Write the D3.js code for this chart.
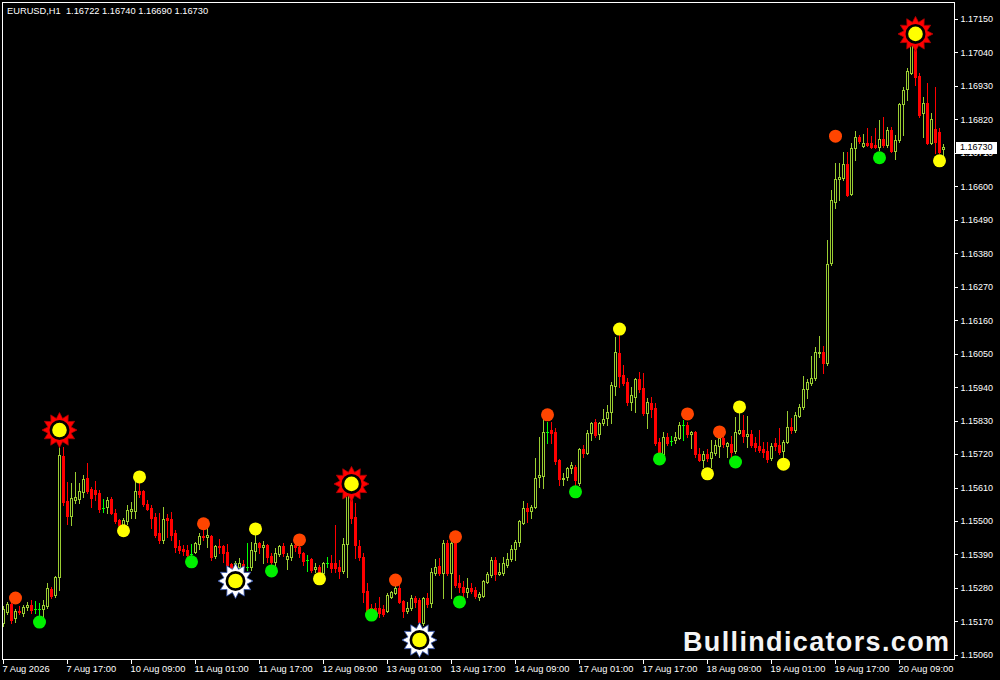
<!DOCTYPE html>
<html><head><meta charset="utf-8">
<script src="https://cdn.jsdelivr.net/npm/d3@7"></script>
<style>html,body{margin:0;padding:0;background:#000;}svg{display:block;}</style>
</head><body>
<svg id="chart" width="1000" height="680"></svg>
<script>
const symbolTitle = "EURUSD,H1  1.16722 1.16740 1.16690 1.16730";
const bidPrice = 1.16730;
const watermark = "Bullindicators.com";

const opens = [
1.15165,1.15201,1.15228,1.15181,1.15204,1.15198,1.15218,1.15224,1.15211,1.15211,
1.15211,1.15221,1.15277,1.15257,1.15316,1.15714,1.15566,1.15517,1.15569,1.15573,
1.15596,1.15641,1.15605,1.15602,1.15592,1.15543,1.15546,1.15573,1.15527,1.15504,
1.15487,1.15500,1.15533,1.15533,1.15599,1.15599,1.15556,1.15543,1.15514,1.15461,
1.15438,1.15510,1.15507,1.15461,1.15418,1.15408,1.15405,1.15392,1.15399,1.15425,
1.15451,1.15448,1.15451,1.15385,1.15418,1.15418,1.15399,1.15359,1.15343,1.15349,
1.15359,1.15349,1.15349,1.15402,1.15428,1.15415,1.15422,1.15385,1.15366,1.15392,
1.15418,1.15376,1.15382,1.15422,1.15415,1.15395,1.15372,1.15376,1.15343,1.15349,
1.15330,1.15362,1.15362,1.15362,1.15349,1.15336,1.15425,1.15592,1.15514,1.15418,
1.15382,1.15270,1.15214,1.15214,1.15214,1.15211,1.15204,1.15251,1.15264,1.15280,
1.15237,1.15204,1.15214,1.15247,1.15241,1.15165,1.15247,1.15231,1.15330,1.15353,
1.15330,1.15428,1.15330,1.15428,1.15297,1.15283,1.15267,1.15280,1.15274,1.15251,
1.15254,1.15300,1.15323,1.15372,1.15326,1.15330,1.15356,1.15376,1.15408,1.15431,
1.15494,1.15543,1.15533,1.15546,1.15645,1.15648,1.15793,1.15799,1.15793,1.15701,
1.15638,1.15645,1.15674,1.15678,1.15625,1.15737,1.15724,1.15789,1.15826,1.15786,
1.15822,1.15839,1.15858,1.15944,1.16052,1.15980,1.15957,1.15891,1.15908,1.15967,
1.15937,1.15855,1.15888,1.15872,1.15760,1.15720,1.15776,1.15763,1.15766,1.15773,
1.15816,1.15816,1.15786,1.15793,1.15720,1.15701,1.15720,1.15707,1.15724,1.15747,
1.15773,1.15747,1.15753,1.15730,1.15789,1.15799,1.15780,1.15786,1.15757,1.15747,
1.15737,1.15730,1.15707,1.15757,1.15750,1.15730,1.15760,1.15809,1.15799,1.15845,
1.15875,1.15934,1.15954,1.15970,1.16052,1.16056,1.16020,1.16348,1.16549,1.16624,
1.16628,1.16674,1.16575,1.16726,1.16762,1.16733,1.16743,1.16743,1.16736,1.16730,
1.16756,1.16736,1.16785,1.16716,1.16752,1.16870,1.16920,1.16972,1.17078,1.16962,
1.16841,1.16874,1.16743,1.16788,1.16778,1.16722];

const highs = [
1.15221,1.15234,1.15241,1.15211,1.15221,1.15224,1.15234,1.15241,1.15237,1.15231,
1.15241,1.15297,1.15283,1.15320,1.15773,1.15743,1.15628,1.15625,1.15661,1.15625,
1.15651,1.15691,1.15612,1.15632,1.15602,1.15573,1.15579,1.15579,1.15540,1.15507,
1.15510,1.15553,1.15563,1.15628,1.15625,1.15602,1.15569,1.15553,1.15527,1.15527,
1.15546,1.15523,1.15530,1.15471,1.15438,1.15422,1.15422,1.15425,1.15431,1.15461,
1.15481,1.15477,1.15454,1.15422,1.15441,1.15422,1.15425,1.15362,1.15369,1.15379,
1.15372,1.15428,1.15431,1.15461,1.15431,1.15435,1.15425,1.15395,1.15412,1.15422,
1.15428,1.15395,1.15428,1.15428,1.15428,1.15399,1.15389,1.15379,1.15362,1.15356,
1.15366,1.15382,1.15389,1.15487,1.15372,1.15445,1.15619,1.15619,1.15560,1.15438,
1.15395,1.15297,1.15228,1.15231,1.15251,1.15224,1.15264,1.15270,1.15287,1.15297,
1.15241,1.15234,1.15257,1.15254,1.15247,1.15251,1.15264,1.15346,1.15376,1.15379,
1.15438,1.15438,1.15438,1.15435,1.15323,1.15303,1.15313,1.15297,1.15283,1.15267,
1.15306,1.15333,1.15382,1.15382,1.15362,1.15382,1.15395,1.15422,1.15438,1.15504,
1.15566,1.15560,1.15553,1.15707,1.15776,1.15832,1.15826,1.15826,1.15806,1.15704,
1.15658,1.15678,1.15694,1.15684,1.15740,1.15750,1.15799,1.15826,1.15835,1.15826,
1.15868,1.15881,1.15957,1.16105,1.16111,1.16013,1.15970,1.15941,1.15970,1.15990,
1.15987,1.15904,1.15908,1.15888,1.15773,1.15793,1.15789,1.15780,1.15793,1.15826,
1.15832,1.15826,1.15796,1.15796,1.15740,1.15730,1.15737,1.15766,1.15766,1.15780,
1.15780,1.15760,1.15780,1.15842,1.15855,1.15849,1.15845,1.15799,1.15776,1.15799,
1.15760,1.15760,1.15757,1.15773,1.15806,1.15766,1.15862,1.15839,1.15858,1.15885,
1.15977,1.15967,1.16043,1.16072,1.16108,1.16075,1.16424,1.16588,1.16677,1.16677,
1.16713,1.16713,1.16743,1.16782,1.16769,1.16772,1.16792,1.16765,1.16792,1.16818,
1.16828,1.16795,1.16795,1.16769,1.16874,1.16927,1.16989,1.17097,1.17104,1.16972,
1.16893,1.16940,1.16841,1.16927,1.16792,1.16740];

const lows = [
1.15155,1.15195,1.15165,1.15168,1.15195,1.15188,1.15208,1.15198,1.15198,1.15185,
1.15185,1.15214,1.15247,1.15251,1.15274,1.15553,1.15491,1.15487,1.15560,1.15560,
1.15579,1.15592,1.15546,1.15569,1.15530,1.15530,1.15527,1.15523,1.15494,1.15471,
1.15484,1.15491,1.15510,1.15510,1.15579,1.15550,1.15537,1.15477,1.15448,1.15428,
1.15428,1.15448,1.15438,1.15399,1.15395,1.15389,1.15382,1.15372,1.15395,1.15408,
1.15438,1.15415,1.15372,1.15379,1.15395,1.15366,1.15343,1.15323,1.15333,1.15339,
1.15339,1.15339,1.15339,1.15372,1.15395,1.15362,1.15366,1.15356,1.15356,1.15385,
1.15385,1.15343,1.15372,1.15402,1.15382,1.15356,1.15336,1.15333,1.15333,1.15326,
1.15316,1.15349,1.15333,1.15333,1.15313,1.15330,1.15316,1.15494,1.15379,1.15372,
1.15234,1.15185,1.15195,1.15191,1.15185,1.15188,1.15201,1.15247,1.15260,1.15231,
1.15185,1.15198,1.15208,1.15218,1.15165,1.15158,1.15218,1.15218,1.15323,1.15323,
1.15247,1.15323,1.15247,1.15283,1.15267,1.15251,1.15251,1.15264,1.15247,1.15241,
1.15251,1.15297,1.15316,1.15306,1.15323,1.15323,1.15349,1.15369,1.15372,1.15418,
1.15491,1.15497,1.15510,1.15543,1.15612,1.15609,1.15757,1.15757,1.15687,1.15619,
1.15619,1.15635,1.15658,1.15619,1.15619,1.15710,1.15720,1.15766,1.15776,1.15770,
1.15816,1.15816,1.15822,1.15914,1.15941,1.15947,1.15881,1.15865,1.15858,1.15924,
1.15849,1.15806,1.15842,1.15750,1.15710,1.15710,1.15750,1.15750,1.15757,1.15770,
1.15766,1.15776,1.15740,1.15710,1.15697,1.15678,1.15697,1.15678,1.15717,1.15710,
1.15743,1.15710,1.15707,1.15724,1.15786,1.15760,1.15743,1.15743,1.15730,1.15727,
1.15710,1.15694,1.15701,1.15734,1.15720,1.15710,1.15757,1.15789,1.15793,1.15842,
1.15868,1.15904,1.15947,1.15963,1.16039,1.15987,1.16013,1.16342,1.16529,1.16555,
1.16621,1.16568,1.16571,1.16687,1.16743,1.16730,1.16733,1.16726,1.16726,1.16720,
1.16730,1.16730,1.16713,1.16690,1.16746,1.16769,1.16884,1.16969,1.16933,1.16828,
1.16762,1.16739,1.16739,1.16709,1.16709,1.16690];

const closes = [
1.15211,1.15228,1.15175,1.15204,1.15201,1.15218,1.15224,1.15208,1.15211,1.15211,
1.15224,1.15280,1.15254,1.15316,1.15717,1.15563,1.15517,1.15576,1.15579,1.15599,
1.15638,1.15599,1.15576,1.15589,1.15540,1.15543,1.15569,1.15527,1.15500,1.15487,
1.15504,1.15537,1.15540,1.15599,1.15589,1.15556,1.15540,1.15510,1.15454,1.15438,
1.15507,1.15504,1.15454,1.15415,1.15405,1.15402,1.15389,1.15392,1.15428,1.15451,
1.15448,1.15454,1.15382,1.15418,1.15415,1.15395,1.15356,1.15343,1.15362,1.15362,
1.15349,1.15349,1.15405,1.15428,1.15415,1.15422,1.15382,1.15366,1.15395,1.15418,
1.15395,1.15385,1.15422,1.15415,1.15395,1.15369,1.15372,1.15339,1.15349,1.15333,
1.15362,1.15362,1.15346,1.15346,1.15336,1.15425,1.15596,1.15510,1.15422,1.15382,
1.15267,1.15201,1.15201,1.15201,1.15198,1.15195,1.15257,1.15267,1.15280,1.15234,
1.15204,1.15214,1.15247,1.15234,1.15168,1.15247,1.15228,1.15333,1.15349,1.15330,
1.15428,1.15330,1.15428,1.15290,1.15283,1.15267,1.15280,1.15270,1.15254,1.15260,
1.15303,1.15326,1.15372,1.15326,1.15333,1.15362,1.15376,1.15408,1.15431,1.15500,
1.15543,1.15533,1.15546,1.15641,1.15651,1.15793,1.15793,1.15789,1.15697,1.15638,
1.15641,1.15674,1.15684,1.15635,1.15737,1.15724,1.15789,1.15822,1.15783,1.15822,
1.15835,1.15858,1.15947,1.16056,1.15977,1.15954,1.15891,1.15914,1.15967,1.15934,
1.15855,1.15891,1.15868,1.15757,1.15720,1.15776,1.15757,1.15763,1.15776,1.15816,
1.15816,1.15786,1.15793,1.15720,1.15701,1.15720,1.15707,1.15727,1.15750,1.15773,
1.15753,1.15757,1.15727,1.15793,1.15799,1.15780,1.15786,1.15750,1.15743,1.15734,
1.15727,1.15704,1.15747,1.15747,1.15727,1.15760,1.15809,1.15799,1.15849,1.15875,
1.15934,1.15957,1.15970,1.16056,1.16056,1.16020,1.16345,1.16555,1.16624,1.16631,
1.16674,1.16571,1.16726,1.16762,1.16749,1.16743,1.16736,1.16730,1.16730,1.16756,
1.16736,1.16785,1.16716,1.16752,1.16870,1.16917,1.16979,1.17074,1.16959,1.16834,
1.16874,1.16743,1.16821,1.16746,1.16713,1.16730];

const timeLabelIdx = [0,16,32,48,64,80,96,112,128,144,160,176,192,208,224];
const timeLabels = ["7 Aug 2026","7 Aug 17:00","10 Aug 09:00","11 Aug 01:00","11 Aug 17:00","12 Aug 09:00","13 Aug 01:00","13 Aug 17:00","14 Aug 09:00","17 Aug 01:00","17 Aug 17:00","18 Aug 09:00","19 Aug 01:00","19 Aug 17:00","20 Aug 09:00"];
const priceTicks = [1.17150,1.17040,1.16930,1.16820,1.16710,1.16600,1.16490,1.16380,1.16270,1.16160,1.16050,1.15940,1.15830,1.15720,1.15610,1.15500,1.15390,1.15280,1.15170,1.15060];

const orangeIdx = [3,50,74,98,113,136,171,179,208];
const orangePrice = [1.15247,1.15491,1.15438,1.15306,1.15448,1.15849,1.15852,1.15793,1.16765];
const yellowIdx = [30,34,63,79,154,176,184,195,234];
const yellowPrice = [1.15468,1.15645,1.15474,1.15310,1.16131,1.15655,1.15875,1.15687,1.16684];
const greenIdx = [9,47,67,92,114,143,164,183,219];
const greenPrice = [1.15168,1.15366,1.15336,1.15191,1.15234,1.15596,1.15704,1.15694,1.16694];
const topStarIdx = [14,87,228];
const topStarPrice = [1.15799,1.15622,1.17101];
const bottomStarIdx = [58,104];
const bottomStarPrice = [1.15303,1.15109];

const svg = d3.select('#chart');
svg.append('rect').attr('width',1000).attr('height',680).attr('fill','#000');

const x = d3.scaleLinear().domain([0, 235]).range([3, 943]);
const y = d3.scaleLinear().domain([1.15060, 1.17150]).range([654.9, 19]);

const BULL = '#9ACD32', BEAR = '#FF0000', DOJI = '#00FF00';
const candles = opens.map((o,i)=>({i, o, h:highs[i], l:lows[i], c:closes[i]}));

const gC = svg.append('g').attr('shape-rendering','crispEdges');
candles.forEach(d=>{
  const cx = Math.round(x(d.i));
  const yo = Math.round(y(d.o)), yc = Math.round(y(d.c));
  const yh = Math.round(y(d.h)), yl = Math.round(y(d.l));
  const doji = Math.abs(d.o - d.c) < 0.000015;
  const col = doji ? DOJI : (d.c > d.o ? BULL : BEAR);
  gC.append('rect').attr('x',cx).attr('y',yh).attr('width',1).attr('height',Math.max(1,yl-yh+1)).attr('fill',col);
  const top = Math.min(yo,yc), bot = Math.max(yo,yc);
  if (doji || top===bot) {
    gC.append('rect').attr('x',cx-1).attr('y',top).attr('width',3).attr('height',1).attr('fill',col);
  } else if (d.c > d.o) {
    gC.append('rect').attr('x',cx-1).attr('y',top).attr('width',3).attr('height',bot-top+1).attr('fill',BULL);
    if (bot-top-1 > 0) gC.append('rect').attr('x',cx).attr('y',top+1).attr('width',1).attr('height',bot-top-1).attr('fill','#000');
  } else {
    gC.append('rect').attr('x',cx-1).attr('y',top).attr('width',3).attr('height',bot-top+1).attr('fill',BEAR);
  }
});

function dots(idx, prices, color){
  svg.append('g').selectAll('circle').data(idx).join('circle')
    .attr('cx',(d)=>x(d)+0.5).attr('cy',(d,j)=>y(prices[j])).attr('r',6.5).attr('fill',color);
}
dots(orangeIdx, orangePrice, '#FF4500');
dots(yellowIdx, yellowPrice, '#FFFF00');
dots(greenIdx, greenPrice, '#00F000');

const starPts = d3.range(24).map(k=>[k*Math.PI/12, k%2===0 ? 17.5 : 12]);
const starPath = d3.lineRadial().curve(d3.curveLinearClosed)(starPts);
function stars(idx, prices, color, edge){
  const g = svg.append('g').selectAll('g').data(idx).join('g')
    .attr('transform',(d,j)=>`translate(${x(d)+0.5},${y(prices[j])})`);
  g.append('path').attr('d',starPath).attr('fill',color).attr('stroke',edge).attr('stroke-width',0.8);
  g.append('circle').attr('r',10).attr('fill','#000');
  g.append('circle').attr('r',7.3).attr('fill','#FFFF00');
}
stars(topStarIdx, topStarPrice, '#FF0000', '#B00000');
stars(bottomStarIdx, bottomStarPrice, '#FFFFFF', '#3050B0');

// frame
svg.append('rect').attr('x',2.5).attr('y',2.5).attr('width',952).attr('height',657)
  .attr('fill','none').attr('stroke','#fff').attr('stroke-width',1).attr('shape-rendering','crispEdges');

// price axis
const ya = svg.append('g').attr('transform','translate(954.5,0)')
  .call(d3.axisRight(y).tickValues(priceTicks).tickSize(3).tickPadding(3).tickFormat(d3.format('.5f')));
ya.select('.domain').remove();
ya.selectAll('line').attr('stroke','#fff').attr('shape-rendering','crispEdges');
ya.selectAll('text').attr('fill','#fff').style('font-family','"Liberation Sans", Arial, sans-serif').style('font-size','9px');

// time axis
const xa = svg.append('g').attr('transform','translate(0,659.5)')
  .call(d3.axisBottom(x).tickValues(timeLabelIdx).tickSize(4).tickPadding(2).tickFormat((d,j)=>timeLabels[j]));
xa.select('.domain').remove();
xa.selectAll('line').attr('stroke','#fff').attr('shape-rendering','crispEdges');
xa.selectAll('text').attr('fill','#fff').attr('text-anchor','start').attr('x',-1)
  .style('font-family','"Liberation Sans", Arial, sans-serif').style('font-size','9.3px');

// bid label
const yb = y(bidPrice);
svg.append('rect').attr('x',955.5).attr('y',Math.round(yb)-5.5).attr('width',41).attr('height',12)
  .attr('fill','#fff').attr('shape-rendering','crispEdges');
svg.append('text').attr('x',960).attr('y',yb).attr('dy','0.35em').text(d3.format('.5f')(bidPrice))
  .attr('fill','#000').style('font-family','"Liberation Sans", Arial, sans-serif').style('font-size','9px');

// title
svg.append('text').attr('x',7).attr('y',14).text(symbolTitle).attr('fill','#fff')
  .attr('xml:space','preserve').style('white-space','pre')
  .style('font-family','"Liberation Sans", Arial, sans-serif').style('font-size','9.3px');

// watermark
svg.append('text').attr('x',683).attr('y',651).text(watermark).attr('fill','#F4F4F4')
  .style('font-family','"Liberation Sans", Arial, sans-serif').style('font-weight','bold')
  .style('font-size','27px').style('letter-spacing','1.35px');
</script>
</body></html>
